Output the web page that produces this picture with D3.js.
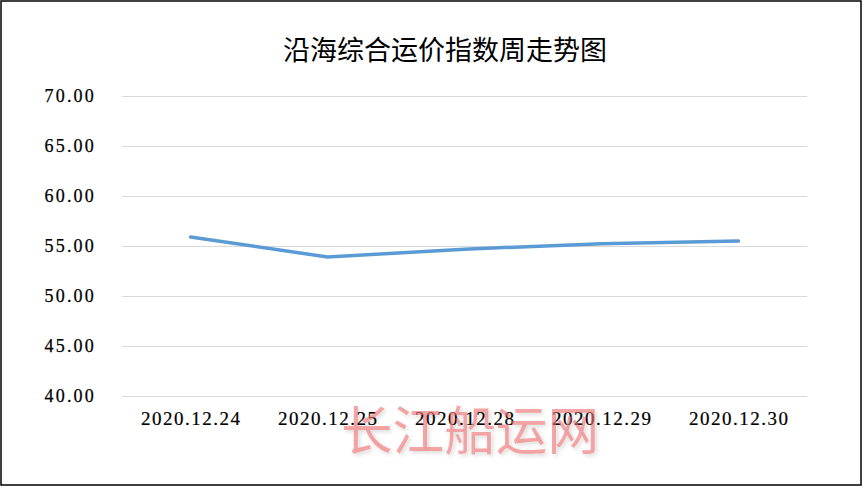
<!DOCTYPE html>
<html>
<head>
<meta charset="utf-8">
<script src="https://cdn.jsdelivr.net/npm/d3@7"></script>
<style>
  html, body { margin: 0; padding: 0; background: #fff; }
  svg { display: block; }
</style>
</head>
<body>
<svg id="chart" width="864" height="489"></svg>
<script>
const title = "沿海综合运价指数周走势图";
const categories = ["2020.12.24", "2020.12.25", "2020.12.28", "2020.12.29", "2020.12.30"];
const values = [55.86, 53.85, 54.63, 55.18, 55.44];
const yTicks = [40, 45, 50, 55, 60, 65, 70];
const watermark = "长江船运网";

const svg = d3.select("#chart");
const W = 864, H = 489;
const margin = { left: 122, right: 57, top: 95.5, bottom: 93.5 };

svg.append("rect")
  .attr("x", 1).attr("y", 1).attr("width", 860).attr("height", 484)
  .attr("fill", "#fff").attr("stroke", "#000").attr("stroke-width", 1.5);

const x = d3.scaleBand().domain(categories).range([margin.left, W - margin.right]).padding(0);
const y = d3.scaleLinear().domain([40, 70]).range([H - margin.bottom, margin.top]);

// gridlines
svg.append("g").selectAll("line").data(yTicks).join("line")
  .attr("x1", margin.left).attr("x2", W - margin.right)
  .attr("y1", d => Math.round(y(d)) + 0.5).attr("y2", d => Math.round(y(d)) + 0.5)
  .attr("stroke", "#d9d9d9").attr("stroke-width", 1);

// y axis labels
const yAxis = d3.axisLeft(y).tickValues(yTicks).tickFormat(d3.format(".2f")).tickSize(0).tickPadding(0);
const yg = svg.append("g").attr("transform", "translate(96,0)").call(yAxis);
yg.select(".domain").remove();
yg.selectAll("text")
  .attr("font-family", "'Liberation Serif', serif")
  .attr("font-size", 18).attr("fill", "#000")
  .attr("letter-spacing", 2.2)
  .attr("stroke", "#000").attr("stroke-width", 0.25)
  .attr("dy", "0.35em");

// x axis labels
const xAxis = d3.axisBottom(x).tickSize(0).tickPadding(0);
const xg = svg.append("g").attr("transform", `translate(0,${H - margin.bottom})`).call(xAxis);
xg.select(".domain").remove();
xg.selectAll("text")
  .attr("font-family", "'Liberation Serif', serif")
  .attr("font-size", 19).attr("fill", "#000")
  .attr("letter-spacing", 1.5)
  .attr("stroke", "#000").attr("stroke-width", 0.2)
  .attr("y", 23).attr("dy", "0.35em")
  .attr("dx", 0.75);

// line
const line = d3.line()
  .x((d, i) => x(categories[i]) + x.bandwidth() / 2)
  .y(d => y(d));
svg.append("path").datum(values)
  .attr("d", line)
  .attr("fill", "none")
  .attr("stroke", "#5b9bd5")
  .attr("stroke-width", 3.5)
  .attr("stroke-linecap", "round")
  .attr("stroke-linejoin", "round");

// title
svg.append("text")
  .attr("x", 445).attr("y", 51)
  .attr("text-anchor", "middle").attr("dy", "0.35em")
  .attr("font-family", "'Noto Sans CJK SC', sans-serif")
  .attr("font-size", 27).attr("fill", "#000")
  .attr("textLength", 324).attr("lengthAdjust", "spacingAndGlyphs")
  .text(title);

// watermark
const defs = svg.append("defs");
const f = defs.append("filter").attr("id", "wmshadow").attr("x", "-10%").attr("y", "-20%").attr("width", "120%").attr("height", "140%");
f.append("feGaussianBlur").attr("in", "SourceAlpha").attr("stdDeviation", 2).attr("result", "b");
f.append("feOffset").attr("in", "b").attr("dx", 2).attr("dy", 2).attr("result", "o");
f.append("feComponentTransfer").attr("in", "o").attr("result", "s")
  .append("feFuncA").attr("type", "linear").attr("slope", 0.25);
const m = f.append("feMerge");
m.append("feMergeNode").attr("in", "s");
m.append("feMergeNode").attr("in", "SourceGraphic");

svg.append("text")
  .attr("x", 470).attr("y", 432)
  .attr("text-anchor", "middle").attr("dy", "0.35em")
  .attr("font-family", "'Noto Sans CJK SC', sans-serif")
  .attr("font-weight", 400)
  .attr("font-size", 52)
  .attr("fill", "rgba(240,110,110,0.6)")
  .attr("textLength", 258).attr("lengthAdjust", "spacingAndGlyphs")
  .attr("filter", "url(#wmshadow)")
  .text(watermark);
</script>
</body>
</html>
